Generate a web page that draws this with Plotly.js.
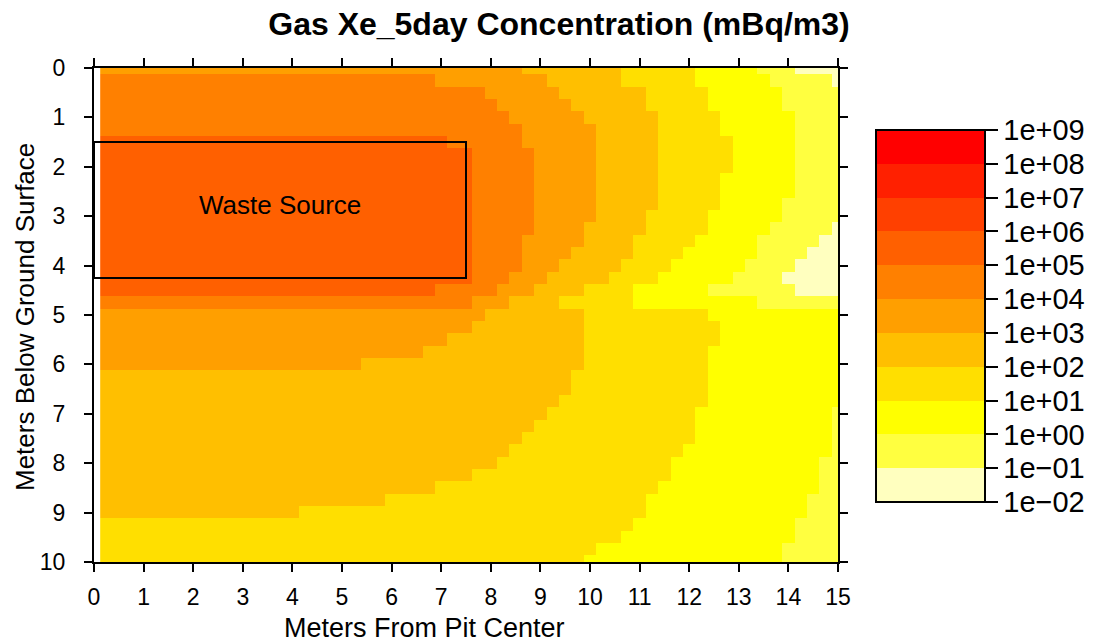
<!DOCTYPE html>
<html>
<head>
<meta charset="utf-8">
<script src="https://cdn.plot.ly/plotly-3.0.1.min.js"></script>
<style>html,body{margin:0;padding:0;background:#fff;}#chart{width:1099px;height:644px;}</style>
</head>
<body>
<div id="chart"></div>
<script>
// Horizontal cell centres (m from pit centre) and depth rows (m below ground surface)
const xMeters = [0.25,0.5,0.75,1,1.25,1.5,1.75,2,2.25,2.5,2.75,3,3.25,3.5,3.75,4,4.25,4.5,4.75,5,
  5.25,5.5,5.75,6,6.25,6.5,6.75,7,7.25,7.5,7.75,8,8.25,8.5,8.75,9,9.25,9.5,9.75,10,
  10.25,10.5,10.75,11,11.25,11.5,11.75,12,12.25,12.5,12.75,13,13.25,13.5,13.75,14,14.25,14.5,14.75,15];
const yDepths = [0,0.25,0.5,0.75,1,1.25,1.5,1.75,2,2.25,2.5,2.75,3,3.25,3.5,3.75,4,4.25,4.5,4.75,
  5,5.25,5.5,5.75,6,6.25,6.5,6.75,7,7.25,7.5,7.75,8,8.25,8.5,8.75,9,9.25,9.5,9.75,10];

// Concentration band (log10 mBq/m3 lower bound) read per depth row as runs: [band, last column index 1..60]
const bandRuns = [
  [[3,34],[2,42],[1,48],[0,53],[-1,56],[-2,60]],
  [[4,27],[3,36],[2,42],[1,48],[0,54],[-1,59],[-2,60]],
  [[4,31],[3,37],[2,44],[1,49],[0,55],[-1,60]],
  [[4,32],[3,38],[2,44],[1,49],[0,55],[-1,60]],
  [[4,33],[3,39],[2,45],[1,50],[0,56],[-1,60]],
  [[4,34],[3,40],[2,45],[1,50],[0,56],[-1,60]],
  [[5,28],[4,34],[3,40],[2,45],[1,51],[0,56],[-1,60]],
  [[5,30],[4,35],[3,40],[2,45],[1,51],[0,56],[-1,60]],
  [[5,30],[4,35],[3,40],[2,45],[1,51],[0,56],[-1,60]],
  [[5,30],[4,35],[3,40],[2,45],[1,50],[0,56],[-1,60]],
  [[5,30],[4,35],[3,40],[2,45],[1,50],[0,56],[-1,60]],
  [[5,30],[4,35],[3,40],[2,45],[1,50],[0,55],[-1,60]],
  [[5,30],[4,35],[3,40],[2,44],[1,49],[0,55],[-1,60]],
  [[5,30],[4,35],[3,39],[2,44],[1,49],[0,54],[-1,59],[-2,60]],
  [[5,30],[4,34],[3,39],[2,43],[1,48],[0,53],[-1,58],[-2,60]],
  [[5,30],[4,34],[3,38],[2,43],[1,47],[0,53],[-1,57],[-2,60]],
  [[5,30],[4,34],[3,37],[2,42],[1,46],[0,52],[-1,56],[-2,60]],
  [[5,30],[4,33],[3,36],[2,41],[1,45],[0,51],[-1,55],[-2,60]],
  [[5,27],[4,32],[3,35],[2,39],[1,43],[0,49],[-1,56],[-2,60]],
  [[4,30],[3,33],[2,37],[1,43],[0,53],[-1,60]],
  [[3,31],[2,39],[1,49],[0,60]],
  [[3,30],[2,39],[1,50],[0,60]],
  [[3,28],[2,39],[1,50],[0,60]],
  [[3,26],[2,39],[1,49],[0,60]],
  [[3,21],[2,39],[1,49],[0,60]],
  [[2,38],[1,49],[0,60]],
  [[2,38],[1,49],[0,60]],
  [[2,37],[1,49],[0,60]],
  [[2,36],[1,48],[0,59],[-1,60]],
  [[2,35],[1,48],[0,59],[-1,60]],
  [[2,34],[1,48],[0,59],[-1,60]],
  [[2,33],[1,47],[0,59],[-1,60]],
  [[2,32],[1,46],[0,58],[-1,60]],
  [[2,30],[1,46],[0,58],[-1,60]],
  [[2,27],[1,45],[0,58],[-1,60]],
  [[2,23],[1,44],[0,57],[-1,60]],
  [[2,16],[1,44],[0,57],[-1,60]],
  [[1,43],[0,56],[-1,60]],
  [[1,42],[0,56],[-1,60]],
  [[1,40],[0,55],[-1,60]],
  [[1,39],[0,55],[-1,60]]
];

const bandColors = ['#FFFFBF','#FFFF40','#FFFF00','#FFDF00','#FFBF00','#FF9F00','#FF8000','#FF6000','#FF4000','#FF2000','#FF0000'];
const bandEdges = [-2,-1,0,1,2,3,4,5,6,7,8,9];
const bandLabels = ['1e\u221202','1e\u221201','1e+00','1e+01','1e+02','1e+03','1e+04','1e+05','1e+06','1e+07','1e+08','1e+09'];
const xTicks = [0,1,2,3,4,5,6,7,8,9,10,11,12,13,14,15];
const yTicks = [0,1,2,3,4,5,6,7,8,9,10];

// decode runs into the log10 concentration grid (band mid-point)
const z = bandRuns.map(runs => xMeters.map((_, i) => {
  const col = i + 1;
  for (const r of runs) { if (col <= r[1]) return r[0] + 0.5; }
  return null;
}));

const nb = bandColors.length;
const colorscale = [];
bandColors.forEach((c, i) => { colorscale.push([i / nb, c]); colorscale.push([(i + 1) / nb, c]); });

const FONT = 'Liberation Sans, Arial, Helvetica, sans-serif';

const trace = {
  type: 'heatmap', x: xMeters, y: yDepths, z: z,
  zmin: bandEdges[0], zmax: bandEdges[bandEdges.length - 1],
  colorscale: colorscale, zsmooth: false, hoverinfo: 'x+y+z',
  colorbar: {
    x: (876 - 94) / 744, xanchor: 'left', xpad: 0, ypad: 0,
    y: 0.498, yanchor: 'middle',
    thickness: 109, thicknessmode: 'pixels', len: 372, lenmode: 'pixels',
    outlinewidth: 2, outlinecolor: '#000',
    tickmode: 'array', tickvals: bandEdges, ticktext: bandLabels,
    ticks: 'outside', ticklen: 12, tickwidth: 2, tickcolor: '#000',
    ticklabelstandoff: 0,
    tickfont: {family: FONT, size: 29, color: '#000'}
  }
};

const axisCommon = {
  ticks: 'outside', ticklen: 8, tickwidth: 2, tickcolor: '#000',
  showline: true, linecolor: '#000', linewidth: 2, mirror: 'allticks',
  showgrid: false, zeroline: false,
  tickfont: {family: FONT, size: 23, color: '#000'}
};

const layout = {
  width: 1099, height: 644,
  margin: {l: 94, r: 261, t: 68, b: 82},
  paper_bgcolor: '#fff', plot_bgcolor: '#fff',
  title: {text: '<b>Gas Xe_5day Concentration (mBq/m3)</b>', x: 559 / 1099, xanchor: 'center',
    y: 1 - 24 / 644, yanchor: 'middle', font: {family: FONT, size: 32, color: '#000'}},
  xaxis: Object.assign({}, axisCommon, {range: [0, 15], tickmode: 'array', tickvals: xTicks, ticklabelstandoff: 5}),
  yaxis: Object.assign({}, axisCommon, {range: [10, 0], tickmode: 'array', tickvals: yTicks, ticklabelstandoff: 14}),
  shapes: [{type: 'rect', xref: 'x', yref: 'y', x0: 0, x1: 7.5, y0: 1.5, y1: 4.25,
    line: {color: '#000', width: 2}, fillcolor: 'rgba(0,0,0,0)'}],
  annotations: [
    {text: 'Waste Source', xref: 'x', yref: 'y', x: 3.75, y: 2.77, showarrow: false,
      xanchor: 'center', yanchor: 'middle', font: {family: FONT, size: 26, color: '#000'}},
    {text: 'Meters From Pit Center', xref: 'paper', yref: 'paper', x: (424 - 94) / 744, y: (562 - 628) / 494,
      showarrow: false, xanchor: 'center', yanchor: 'middle', font: {family: FONT, size: 27, color: '#000'}},
    {text: 'Meters Below Ground Surface', xref: 'paper', yref: 'paper', x: (25 - 94) / 744, y: (562 - 317) / 494,
      textangle: -90, showarrow: false, xanchor: 'center', yanchor: 'middle', font: {family: FONT, size: 26, color: '#000'}}
  ]
};

Plotly.newPlot('chart', [trace], layout, {displayModeBar: false, staticPlot: true});
</script>
</body>
</html>
